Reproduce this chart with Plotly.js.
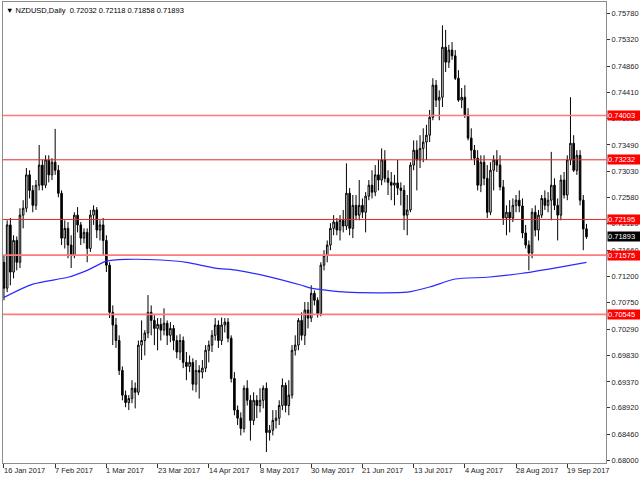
<!DOCTYPE html>
<html>
<head>
<meta charset="utf-8">
<script src="https://cdn.plot.ly/plotly-3.0.1.min.js"></script>
<style>html,body{margin:0;padding:0;background:#fff;}#chart{width:640px;height:480px;}</style>
</head>
<body>
<div id="chart"></div>
<script>
const dates = [
"2017-01-16","2017-01-17","2017-01-18","2017-01-19","2017-01-20","2017-01-23","2017-01-24","2017-01-25","2017-01-26","2017-01-27","2017-01-30","2017-01-31",
"2017-02-01","2017-02-02","2017-02-03","2017-02-06","2017-02-07","2017-02-08","2017-02-09","2017-02-10","2017-02-13","2017-02-14","2017-02-15","2017-02-16","2017-02-17","2017-02-20","2017-02-21","2017-02-22","2017-02-23","2017-02-24","2017-02-27","2017-02-28",
"2017-03-01","2017-03-02","2017-03-03","2017-03-06","2017-03-07","2017-03-08","2017-03-09","2017-03-10","2017-03-13","2017-03-14","2017-03-15","2017-03-16","2017-03-17","2017-03-20","2017-03-21","2017-03-22","2017-03-23","2017-03-24","2017-03-27","2017-03-28","2017-03-29","2017-03-30","2017-03-31",
"2017-04-03","2017-04-04","2017-04-05","2017-04-06","2017-04-07","2017-04-10","2017-04-11","2017-04-12","2017-04-13","2017-04-14","2017-04-17","2017-04-18","2017-04-19","2017-04-20","2017-04-21","2017-04-24","2017-04-25","2017-04-26","2017-04-27","2017-04-28",
"2017-05-01","2017-05-02","2017-05-03","2017-05-04","2017-05-05","2017-05-08","2017-05-09","2017-05-10","2017-05-11","2017-05-12","2017-05-15","2017-05-16","2017-05-17","2017-05-18","2017-05-19","2017-05-22","2017-05-23","2017-05-24","2017-05-25","2017-05-26","2017-05-29","2017-05-30","2017-05-31",
"2017-06-01","2017-06-02","2017-06-05","2017-06-06","2017-06-07","2017-06-08","2017-06-09","2017-06-12","2017-06-13","2017-06-14","2017-06-15","2017-06-16","2017-06-19","2017-06-20","2017-06-21","2017-06-22","2017-06-23","2017-06-26","2017-06-27","2017-06-28","2017-06-29","2017-06-30",
"2017-07-03","2017-07-04","2017-07-05","2017-07-06","2017-07-07","2017-07-10","2017-07-11","2017-07-12","2017-07-13","2017-07-14","2017-07-17","2017-07-18","2017-07-19","2017-07-20","2017-07-21","2017-07-24","2017-07-25","2017-07-26","2017-07-27","2017-07-28","2017-07-31",
"2017-08-01","2017-08-02","2017-08-03","2017-08-04","2017-08-07","2017-08-08","2017-08-09","2017-08-10","2017-08-11","2017-08-14","2017-08-15","2017-08-16","2017-08-17","2017-08-18","2017-08-21","2017-08-22","2017-08-23","2017-08-24","2017-08-25","2017-08-28","2017-08-29","2017-08-30","2017-08-31",
"2017-09-01","2017-09-04","2017-09-05","2017-09-06","2017-09-07","2017-09-08","2017-09-11","2017-09-12","2017-09-13","2017-09-14","2017-09-15","2017-09-18","2017-09-19","2017-09-20","2017-09-21","2017-09-22","2017-09-25","2017-09-26","2017-09-27"
];

const openP = [
.7145,.7100,.7210,.7128,.7183,.7145,.7227,.7239,.7297,.7270,
.7244,.7279,.7314,.7279,.7323,.7297,.7319,.7305,.7265,.7187,
.7204,.7175,.7157,.7227,.7210,.7187,.7197,.7169,.7227,.7236,
.7201,.7210,.7183,.7140,.7058,.7036,.7009,.6957,.6914,.6901,
.6908,.6926,.6919,.7001,.7009,.7022,.7058,.7044,.7030,.7037,
.7027,.7039,.7018,.7030,.7009,.6989,.7009,.6971,.6964,.6971,
.6933,.6957,.6954,.6961,.6992,.7001,.7018,.7036,.7009,.7036,
.7041,.7013,.6943,.6888,.6874,.6856,.6926,.6905,.6870,.6905,
.6896,.6905,.6926,.6849,.6853,.6870,.6874,.6896,.6931,.6896,
.6914,.6992,.7001,.7044,.7018,.7062,.7048,.7091,.7079,.7056,
.7140,.7157,.7175,.7204,.7215,.7201,.7218,.7208,.7265,.7204,
.7244,.7227,.7244,.7232,.7260,.7279,.7267,.7297,.7288,.7323,
.7291,.7284,.7279,.7283,.7274,.7270,.7227,.7236,.7314,.7340,
.7323,.7343,.7354,.7366,.7397,.7453,.7427,.7432,.7519,.7493,
.7514,.7504,.7465,.7427,.7432,.7401,.7361,.7340,.7326,.7279,
.7319,.7291,.7232,.7305,.7323,.7314,.7276,.7222,.7232,.7222,
.7244,.7253,.7243,.7196,.7175,.7161,.7232,.7201,.7227,.7256,
.7244,.7253,.7279,.7244,.7227,.7288,.7262,.7323,.7352,.7305,
.7331,.7253,.72032
];
const highP = [
.7157,.7218,.7222,.7192,.7190,.7239,.7253,.7309,.7305,.7279,
.7288,.7349,.7323,.7331,.7331,.7326,.7377,.7314,.7270,.7218,
.7215,.7192,.7232,.7241,.7215,.7204,.7204,.7236,.7244,.7241,
.7218,.7222,.7192,.7145,.7070,.7048,.7018,.6964,.6922,.6914,
.6940,.6936,.7009,.7044,.7027,.7088,.7070,.7053,.7048,.7048,
.7065,.7044,.7041,.7036,.7018,.7020,.7016,.6989,.6983,.6978,
.6975,.6966,.6975,.7001,.7009,.7027,.7048,.7044,.7049,.7048,
.7048,.7018,.6954,.6896,.6884,.6931,.6940,.6914,.6919,.6914,
.6926,.6931,.6936,.6862,.6888,.6888,.6905,.6943,.6936,.6940,
.7001,.7018,.7048,.7058,.7076,.7076,.7105,.7096,.7084,.7145,
.7166,.7183,.7213,.7227,.7222,.7227,.7236,.7317,.7274,.7262,
.7262,.7288,.7256,.7267,.7288,.7305,.7314,.7323,.7343,.7340,
.7305,.7302,.7297,.7323,.7284,.7279,.7262,.7319,.7357,.7357,
.7366,.7378,.7384,.7410,.7465,.7462,.7444,.7557,.7549,.7523,
.7528,.7514,.7479,.7448,.7453,.7413,.7378,.7349,.7340,.7331,
.7331,.7314,.7319,.7331,.7340,.7331,.7288,.7244,.7253,.7256,
.7262,.7270,.7256,.7210,.7183,.7239,.7244,.7236,.7262,.7270,
.7267,.7337,.7291,.7256,.7297,.7302,.7331,.7432,.7366,.7340,
.7340,.7262,.72118
];
const lowP = [
.7079,.7093,.7105,.7117,.7131,.7135,.7204,.7232,.7256,.7232,
.7236,.7270,.7270,.7274,.7284,.7288,.7297,.7258,.7175,.7169,
.7152,.7135,.7152,.7197,.7175,.7178,.7145,.7163,.7210,.7187,
.7183,.7157,.7128,.7048,.7001,.6996,.6949,.6905,.6893,.6888,
.6900,.6891,.6914,.6975,.6983,.7013,.7018,.7001,.6992,.7009,
.7018,.7001,.7006,.6992,.6978,.6975,.6961,.6940,.6954,.6922,
.6919,.6908,.6943,.6954,.6971,.6989,.7009,.6996,.7001,.7023,
.7006,.6936,.6879,.6862,.6844,.6849,.6896,.6835,.6862,.6874,
.6884,.6891,.6815,.6835,.6844,.6856,.6862,.6888,.6884,.6879,
.6908,.6983,.6992,.7009,.7001,.7030,.7041,.7070,.7049,.7051,
.7131,.7145,.7166,.7192,.7192,.7183,.7197,.7201,.7192,.7187,
.7218,.7218,.7222,.7197,.7253,.7256,.7260,.7270,.7279,.7284,
.7262,.7253,.7244,.7262,.7244,.7201,.7192,.7232,.7305,.7270,
.7309,.7319,.7323,.7354,.7392,.7415,.7392,.7415,.7476,.7483,
.7497,.7462,.7424,.7413,.7396,.7357,.7323,.7314,.7270,.7267,
.7279,.7222,.7227,.7270,.7302,.7270,.7210,.7192,.7197,.7215,
.7232,.7232,.7187,.7169,.7131,.7152,.7190,.7183,.7222,.7236,
.7232,.7218,.7236,.7183,.7218,.7256,.7253,.7314,.7302,.7297,
.7244,.7166,.71858
];
const closeP = [
.7100,.7210,.7128,.7183,.7145,.7227,.7239,.7297,.7270,.7244,
.7279,.7314,.7279,.7323,.7297,.7319,.7305,.7265,.7187,.7204,
.7175,.7157,.7227,.7210,.7187,.7197,.7169,.7227,.7236,.7201,
.7210,.7183,.7140,.7058,.7036,.7009,.6957,.6914,.6901,.6908,
.6926,.6919,.7001,.7009,.7022,.7058,.7044,.7030,.7037,.7027,
.7039,.7018,.7030,.7009,.6989,.7009,.6971,.6964,.6971,.6933,
.6957,.6954,.6961,.6992,.7001,.7018,.7036,.7009,.7036,.7041,
.7013,.6943,.6888,.6874,.6856,.6926,.6905,.6870,.6905,.6896,
.6905,.6926,.6849,.6853,.6870,.6874,.6896,.6931,.6896,.6914,
.6992,.7001,.7044,.7018,.7062,.7048,.7091,.7079,.7056,.7140,
.7157,.7175,.7204,.7215,.7201,.7218,.7208,.7265,.7204,.7244,
.7227,.7244,.7232,.7260,.7279,.7267,.7297,.7288,.7323,.7291,
.7284,.7279,.7283,.7274,.7270,.7227,.7236,.7314,.7340,.7323,
.7343,.7354,.7366,.7397,.7453,.7427,.7432,.7519,.7493,.7514,
.7504,.7465,.7427,.7432,.7401,.7361,.7340,.7326,.7279,.7319,
.7291,.7232,.7305,.7323,.7314,.7276,.7222,.7232,.7222,.7244,
.7253,.7243,.7196,.7175,.7161,.7232,.7201,.7227,.7256,.7244,
.7253,.7279,.7244,.7227,.7288,.7262,.7323,.7352,.7305,.7331,
.7253,.7203,.71893
];

const maDates = ["2017-01-16","2017-01-27","2017-02-13","2017-02-21","2017-03-01","2017-03-09","2017-03-24","2017-04-05","2017-04-18","2017-04-27","2017-05-10","2017-05-25","2017-05-30","2017-06-14","2017-07-11","2017-07-20","2017-08-01","2017-08-15","2017-08-30","2017-09-13","2017-09-27"];
const maValues = [.7084,.7107,.7119,.7131,.7147,.7150,.7149,.7145,.7135,.7131,.7121,.7105,.7100,.7093,.7093,.7102,.7116,.7119,.7126,.7135,.7145];

const levelValues = [0.74003, 0.73232, 0.72195, 0.71575, 0.70545];
const levelColors = ["#ff7a7a", "#e02828", "#e02828", "#ff7a7a", "#ff7a7a"];
const levelWidths = [1.6, 1, 1, 1.6, 1.6];
const lastPrice = 0.71893;

const yTickVals = [0.75780,0.75320,0.74860,0.74410,0.73950,0.73490,0.73030,0.72580,0.72120,0.71660,0.71200,0.70750,0.70290,0.69830,0.69370,0.68920,0.68460,0.68000];
const xTickDates = ["2017-01-16","2017-02-07","2017-03-01","2017-03-23","2017-04-14","2017-05-08","2017-05-30","2017-06-21","2017-07-13","2017-08-04","2017-08-28","2017-09-19"];
const xTickLabels = ["16 Jan 2017","7 Feb 2017","1 Mar 2017","23 Mar 2017","14 Apr 2017","8 May 2017","30 May 2017","21 Jun 2017","13 Jul 2017","4 Aug 2017","28 Aug 2017","19 Sep 2017"];
const headerText = "▼ NZDUSD,Daily\u00A0\u00A00.72032 0.72118 0.71858 0.71893";

const FONT = "Liberation Sans, Arial, sans-serif";

const traces = [
  {
    type: "candlestick",
    x: dates, open: openP, high: highP, low: lowP, close: closeP,
    increasing: {line: {color: "#000000", width: 1}, fillcolor: "#ffffff"},
    decreasing: {line: {color: "#000000", width: 1}, fillcolor: "#000000"},
    whiskerwidth: 0,
    hoverinfo: "skip",
    showlegend: false
  },
  {
    type: "scatter", mode: "lines",
    x: maDates, y: maValues,
    line: {color: "#2a2aff", width: 1.2, shape: "spline", smoothing: 0.6},
    hoverinfo: "skip", showlegend: false
  }
];

const shapes = levelValues.map((v, i) => ({
  type: "line", xref: "paper", x0: 0, x1: 1, yref: "y", y0: v, y1: v,
  line: {color: levelColors[i], width: levelWidths[i]}, layer: "above"
}));

const annotations = [];
xTickDates.forEach((d, i) => {
  annotations.push({
    x: d, xref: "x", y: 0, yref: "paper", yanchor: "top", xanchor: "left",
    text: xTickLabels[i], showarrow: false, yshift: -1, xshift: -2,
    font: {family: FONT, size: 7.5, color: "#222"}
  });
});
levelValues.forEach(v => {
  annotations.push({
    x: 1, xref: "paper", xanchor: "left", y: v, yref: "y", yanchor: "middle",
    text: v.toFixed(5), showarrow: false, bgcolor: "#ff0000",
    font: {family: FONT, size: 7.5, color: "#ffffff"},
    width: 33, height: 9, align: "left", borderpad: 0, xshift: 1
  });
});
annotations.push({
  x: 1, xref: "paper", xanchor: "left", y: lastPrice, yref: "y", yanchor: "middle",
  text: lastPrice.toFixed(5), showarrow: false, bgcolor: "#000000",
  font: {family: FONT, size: 7.5, color: "#ffffff"},
  width: 33, height: 9, align: "left", borderpad: 0, xshift: 1
});
annotations.push({
  x: 0, xref: "paper", xanchor: "left", y: 1, yref: "paper", yanchor: "top",
  text: headerText, showarrow: false, xshift: 1, yshift: -2,
  font: {family: FONT, size: 7.5, color: "#000"}
});

const layout = {
  width: 640, height: 480,
  margin: {l: 3, r: 34, t: 2, b: 17, pad: 0},
  paper_bgcolor: "#ffffff", plot_bgcolor: "#ffffff",
  showlegend: false,
  xaxis: {
    type: "category", range: [-0.3, 188.1],
    showgrid: false, zeroline: false,
    showline: true, mirror: true, linecolor: "#8c8c8c", linewidth: 1,
    ticks: "outside", ticklen: 4, tickcolor: "#333",
    tickvals: xTickDates, showticklabels: false,
    rangeslider: {visible: false}, fixedrange: true
  },
  yaxis: {
    side: "right", range: [0.6796, 0.75976],
    showgrid: false, zeroline: false,
    showline: true, mirror: true, linecolor: "#8c8c8c", linewidth: 1,
    ticks: "outside", ticklen: 3, tickcolor: "#333",
    tickvals: yTickVals, tickformat: ".5f",
    tickfont: {family: FONT, size: 7.5, color: "#222"},
    fixedrange: true
  },
  shapes: shapes,
  annotations: annotations
};

Plotly.newPlot("chart", traces, layout, {staticPlot: true, displayModeBar: false});
</script>
</body>
</html>
